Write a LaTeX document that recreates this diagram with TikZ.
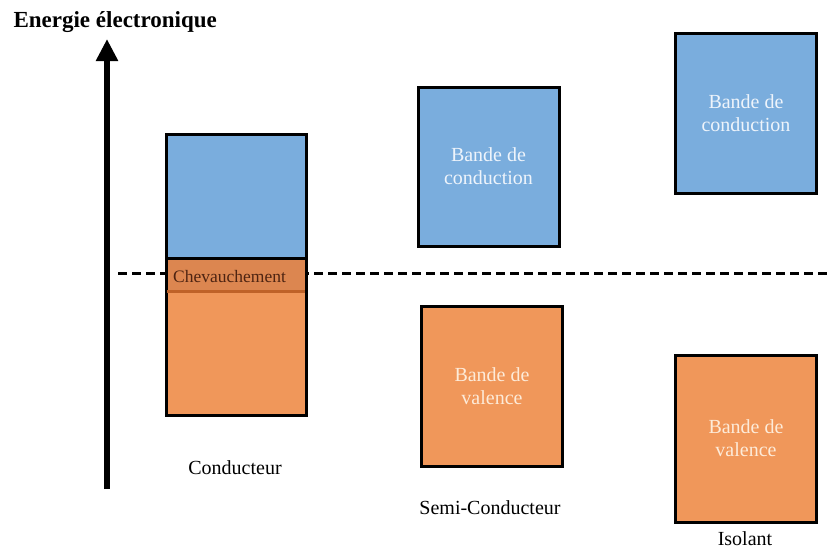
\documentclass[tikz,border=0pt]{standalone}
\usepackage{fontspec}
\setmainfont{Liberation Serif}
\usepackage{tikz}
\usetikzlibrary{arrows.meta}
\usepackage{xcolor}
\definecolor{bandblue}{HTML}{7AADDD}
\definecolor{bandorange}{HTML}{F0975A}
\definecolor{overlaporange}{HTML}{DC8650}
\definecolor{overlapline}{HTML}{BF6228}
\definecolor{bluetext}{HTML}{EEF4FB}
\definecolor{orangetext}{HTML}{FDEBD9}
\definecolor{overlaptext}{HTML}{4E2412}

\begin{document}
\begin{tikzpicture}[x=1pt,y=-1pt,
		bandbox/.style={draw=black,line width=3pt,minimum width=141pt,inner sep=0pt,align=center,font=\fontsize{20}{23}\selectfont},
		cband/.style={bandbox,fill=bandblue,text=bluetext},
		vband/.style={bandbox,fill=bandorange,text=orangetext},
		caption/.style={font=\fontsize{20}{23}\selectfont}]
		
		\useasboundingbox (0,0) rectangle (830,549);
		
		% Energy axis
		\node[anchor=west,font=\bfseries\fontsize{23}{26}\selectfont] (energie) at (10,22) {Energie électronique};
		\coordinate (axisfoot) at (107,489);
		\coordinate (axistop) at (107,39);
		\draw[line width=6pt,-{Triangle[width=21pt,length=22pt]}] (axisfoot) -- (axistop);
		
		% Fermi level (dashed)
		\coordinate (fermiL) at (118,273);
		\coordinate (fermiR) at (830,273);
		\draw[line width=3pt,dash pattern=on 9pt off 5pt] (fermiL) -- (fermiR);
		
		% Conducteur: bands overlap
		\node[vband,minimum width=140pt,minimum height=157pt] (condV) at (236,336.5) {};
		\node[fill=overlaporange,minimum width=137pt,minimum height=33pt,inner sep=0pt] (overlap) at (236,275) {};
		\draw[overlapline,line width=2.5pt] (overlap.south west) -- (overlap.south east);
		\node[anchor=west,text=overlaptext,font=\fontsize{17.5}{20}\selectfont,inner sep=0pt] (chev) at (173,277) {Chevauchement};
		\node[cband,minimum width=140pt,minimum height=124pt] (condC) at (236,196) {};
		\node[caption] (conducteur) at (235,468) {Conducteur};
		
		% Semi-conducteur: small gap
		\node[cband,minimum height=159pt] (semiC) at (488.5,166.5) {Bande de\\conduction};
		\node[vband,minimum height=160pt] (semiV) at (492,386) {Bande de\\valence};
		\node[caption] (semi) at (490,508) {Semi-Conducteur};
		
		% Isolant: large gap
		\node[cband,minimum height=160pt] (isoC) at (746,113) {Bande de\\conduction};
		\node[vband,minimum height=167pt] (isoV) at (746,438.5) {Bande de\\valence};
		\node[caption] (isolant) at (745,539) {Isolant};
		
	\end{tikzpicture}
\end{document}
